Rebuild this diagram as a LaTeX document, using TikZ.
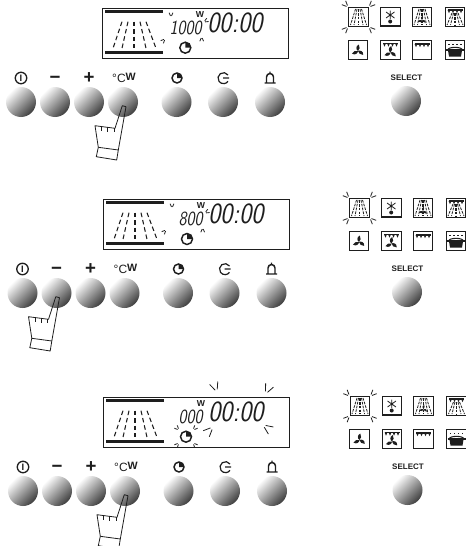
\documentclass[tikz,border=0pt]{standalone}
\usepackage{fontspec}
\newfontfamily\tagfont{Liberation Sans}
\usetikzlibrary{arrows.meta, positioning, calc}
\definecolor{inkline}{HTML}{1E1E1E}
\tikzset{
  knob/.style={circle, minimum size=22.5pt, inner sep=0pt, top color=black!0, bottom color=black!76, shading angle=45},
  glyph/.style={inner sep=0pt, text=inkline, font=\tagfont\bfseries\fontsize{7}{7}\selectfont},
  modebox/.style={draw=inkline, line width=0.8pt, minimum width=14.6pt, minimum height=14.2pt, inner sep=0pt, fill=white},
  bigdigits/.style={inner sep=0pt, text=inkline, font=\sffamily\slshape\fontsize{22}{22}\selectfont},
  smalldigits/.style={inner sep=0pt, text=inkline, font=\sffamily\slshape\fontsize{15}{15}\selectfont},
  % one pair of ticks, opening away from the origin
  pics/blink/.style={code={
    \draw[inkline, line width=0.6pt] (1.5,-0.7) -- (#1,-0.45*#1) (1.5,0.7) -- (#1,0.45*#1);
  }},
  pics/clockmark/.style={code={
    \draw[inkline, line width=1.1pt] (0,0) circle[radius=#1];
    \fill[inkline] (0,0) -- (0,-#1) arc[start angle=-90, end angle=0, radius=#1] -- cycle;
  }},
  pics/blades/.style={code={
    \foreach \a in {90,210,330}
      \fill[inkline, rotate=\a] (0,0) .. controls (1,-2) and (5,-2.6) .. (6.5,0.8) .. controls (4,2) and (1.5,2) .. (0,0) -- cycle;
  }},
  pics/rays/.style={code={
    \foreach \a/\b in {-8/-3, -4.5/-1.5, 4.5/1.5, 8/3}
      \draw[inkline, line width=0.6pt, dash pattern=on 2pt off 0.9pt] (\b,-8) -- (\a,8);
    \draw[inkline, line width=1.2pt, dash pattern=on 2pt off 0.9pt] (0,-8) -- (0,8);
  }},
  pics/teeth/.style={code={
    \draw[inkline, line width=0.9pt] (-7.5,0) -- (7.5,0);
    \foreach \a in {-6,-2,2,6}
      \fill[inkline] (\a-1.4,0) -- (\a+1.4,0) -- (\a,3.2) -- cycle;
  }},
  % row of seven knobs with what is printed over them
  pics/knobrow/.style={code={
    \foreach \n/\x in {1/21, 2/55, 3/89, 4/123, 5/176.5, 6/223, 7/270}
      \node[knob] (knob\n) at (\x,102) {};
    \node[glyph, draw=inkline, circle, line width=1pt, minimum size=8.6pt] (lblpower) at (21,78) {\fontsize{7}{7}\selectfont I};
    \node[glyph, font=\tagfont\bfseries\fontsize{14}{14}\selectfont] (lblminus) at (55,80) {−};
    \node[glyph, font=\tagfont\bfseries\fontsize{14}{14}\selectfont] (lblplus) at (89,78) {+};
    \node[glyph, font=\tagfont\fontsize{9}{9}\selectfont] (lbldegree) at (124,78) {°C\raisebox{1.5pt}{\bfseries\fontsize{8}{8}\selectfont W}};
    \pic at (177,78) {clockmark=5};
    \draw[inkline, line width=0.9pt] (223,78) -- (229,78) (228,75) arc[start angle=-35, end angle=-325, radius=5.5];
    \draw[inkline, line width=1.1pt, line join=round] (264.5,83) -- (275.5,83) (266.5,83) -- (266.5,77) arc[start angle=180, end angle=360, radius=3.5] -- (273.5,83) (270,71.5) -- (270,73.5);
  }},
  % finger pressing the knob at the origin
  pics/hand/.style={code={
    \draw[inkline, line width=0.6pt, line join=round]
      (-0.7,3.7) -- (-8,26.3) -- (-28,23.7) -- (-24.7,45.3) -- (-26.7,54.7) -- (-6.3,58) -- (-4.7,48) -- (3,4.7) -- cycle;
    \draw[inkline, line width=0.6pt] (-24.7,45.3) -- (-4.7,48);
    \draw[inkline, line width=0.6pt] (-21.5,24.5) -- (-21.5,29) (-15.5,25) -- (-15.5,30) (-9,26) -- (-9,30);
  }},
  % liquid crystal display, its reading given as argument
  pics/screen/.style={code={
    \node[draw=inkline, line width=0.7pt, minimum width=139.5pt, minimum height=37.5pt, inner sep=0pt, anchor=north west] (frame) at (0,0) {};
    \draw[inkline, line width=1.9pt] (3,3.7) -- (61,3.7) (3,44.3) -- (61,44.3);
    \foreach \a/\b in {-21/-12, -12/-6, 12/6, 22/12}
      \draw[inkline, line width=0.8pt, dash pattern=on 3.4pt off 2.2pt] (32+\b,13.7) -- (32+\a,40.3);
    \draw[inkline, line width=1.5pt, dash pattern=on 3.4pt off 2.2pt] (32,13.7) -- (32,40.3);
    \node[smalldigits, anchor=east] (reading) at (100,20) {\scalebox{.82}[1]{#1}};
    \node[bigdigits, anchor=west] (clock) at (105,15) {\scalebox{.88}[1]{00:00}};
    \node[glyph, font=\tagfont\bfseries\fontsize{6.5}{6.5}\selectfont] (unit) at (98,7) {W};
  }},
  % mode symbols and the select knob
  pics/modes/.style={code={
    \foreach \n/\x/\y in {a/358.5/17, b/390.5/16.5, c/422/17, d/455/17, e/358/50, f/390.5/50, g/422/50, h/455/50}
      \node[modebox] (mode\n) at (\x,\y) {};
    \pic at (358.5,17) {rays};
    \foreach \x/\y/\r in {348/7/135, 369/7/45, 348/27/225, 369/27/315}
      \pic[rotate=\r] at (\x,\y) {blink=6};
    \draw[inkline, line width=0.6pt] (386,12) -- (394.5,18) (394.5,12) -- (386,18) (390.2,10.5) -- (390.2,19);
    \fill[inkline] (390.2,21.5) circle[radius=2];
    \pic at (422,17) {rays};
    \pic[scale=0.7] at (422,20) {blades};
    \pic at (455,10) {teeth};
    \pic[yscale=0.75] at (455,19) {rays};
    \pic at (358,51) {blades};
    \pic at (390.5,52.5) {blades};
    \pic at (390.5,43.5) {teeth};
    \pic at (422,44) {teeth};
    \foreach \x in {449,453,457,461}
      \fill[inkline] (\x-0.7,43.5) rectangle (\x+0.7,44.5);
    \draw[inkline, line width=0.9pt] (446,50) -- (464,50);
    \fill[inkline] (448,50.5) -- (462,50.5) -- (461,56.5) -- (449,56.5) -- cycle;
    \draw[inkline, line width=0.8pt] (448,50) .. controls (447,46.5) and (463,46.5) .. (462,50);
    \node[glyph, font=\tagfont\bfseries\fontsize{6}{6}\selectfont] (selecttag) at (406.5,78) {SELECT};
    \node[knob] (selectknob) at (406,101) {};
  }},
  % marks round the power reading
  pics/powermarks/.style={code={
    \pic[scale=0.7, rotate=90] at (69,9) {blink=6};
    \pic[scale=0.7, rotate=225] at (63,31) {blink=6};
    \pic[scale=0.7, rotate=270] at (99.7,29) {blink=6};
    \pic[scale=0.7, rotate=30] at (102,14) {blink=6};
  }},
}
\begin{document}
\begin{tikzpicture}[x=0.75pt, y=-0.75pt]
\useasboundingbox (0,0) rectangle (465,546);
% first step
\pic (one) at (0,0) {knobrow};
\pic (onescreen) at (102,8) {screen=1000};
\pic (onemodes) at (0,0) {modes};
\pic at (102,8) {powermarks};
\pic at (185.3,47.7) {clockmark=5.5};
\pic at (oneknob4.center) {hand};
% second step
\pic (two) at (1.5,191) {knobrow};
\pic (twoscreen) at (103,199) {screen=800};
\pic (twomodes) at (1,191) {modes};
\pic at (103,199) {powermarks};
\pic at (187,239) {clockmark=5.5};
\pic at (twoknob2.center) {hand};
% third step
\pic (three) at (2,389) {knobrow};
\pic (threescreen) at (103,397) {screen=000};
\pic (threemodes) at (1.5,389) {modes};
\pic[rotate=110, scale=1.6] at (217,392) {blink=6};
\pic[rotate=65, scale=1.6] at (265.5,394) {blink=6};
\pic[rotate=225, scale=1.6] at (213,427) {blink=6};
\pic[rotate=325, scale=1.6] at (263,425) {blink=6};
\pic at (186,436.7) {clockmark=5.5};
\foreach \x/\y/\r in {179/430/135, 193/430/45, 179/443/225, 193/443/315}
  \pic[rotate=\r, scale=0.9] at (\x,\y) {blink=5};
\pic at (threeknob4.center) {hand};
\end{tikzpicture}
\end{document}
